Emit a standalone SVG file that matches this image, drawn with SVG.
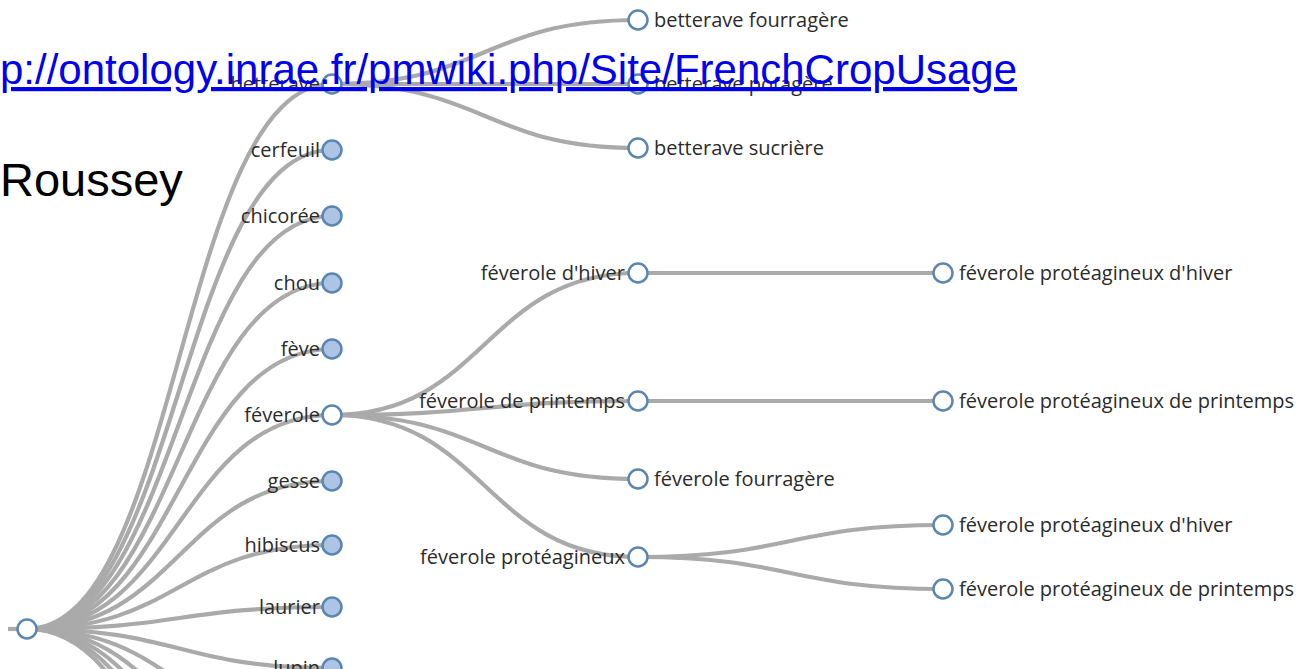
<svg xmlns="http://www.w3.org/2000/svg" width="1301" height="669" viewBox="0 0 1301 669">
<style>
.link{fill:none;stroke:#aaaaaa;stroke-width:4.2}
.node circle{stroke:#5a86b1;stroke-width:2.5}
.collapsed{fill:#aec4e5}
.open{fill:#ffffff}
.lbl{font-family:"Open Sans","DejaVu Sans",sans-serif;font-size:20px;fill:#2b2b2b}
.end{text-anchor:end}
.title{font-family:"Liberation Sans",Arial,sans-serif;fill:#000}
</style>
<rect width="1301" height="669" fill="#fff"/>
<g id="connectors">
<path class="link" d="M8,629 L18,629"/>
<path class="link" d="M27,629 C179.5,629 179.5,84 332,84"/>
<path class="link" d="M27,629 C179.5,629 179.5,150 332,150"/>
<path class="link" d="M27,629 C179.5,629 179.5,216 332,216"/>
<path class="link" d="M27,629 C179.5,629 179.5,283 332,283"/>
<path class="link" d="M27,629 C179.5,629 179.5,349 332,349"/>
<path class="link" d="M27,629 C179.5,629 179.5,415 332,415"/>
<path class="link" d="M27,629 C179.5,629 179.5,481 332,481"/>
<path class="link" d="M27,629 C179.5,629 179.5,545 332,545"/>
<path class="link" d="M27,629 C179.5,629 179.5,607 332,607"/>
<path class="link" d="M27,629 C179.5,629 179.5,668 332,668"/>
<path class="link" d="M27,629 C179.5,629 179.5,734 332,734"/>
<path class="link" d="M27,629 C179.5,629 179.5,800 332,800"/>
<path class="link" d="M27,629 C179.5,629 179.5,866 332,866"/>
<path class="link" d="M27,629 C179.5,629 179.5,932 332,932"/>
<path class="link" d="M27,629 C179.5,629 179.5,998 332,998"/>
<path class="link" d="M332,84 C485,84 485,20 638,20"/>
<path class="link" d="M332,84 C485,84 485,84 638,84"/>
<path class="link" d="M332,84 C485,84 485,148 638,148"/>
<path class="link" d="M332,415 C485,415 485,273 638,273"/>
<path class="link" d="M332,415 C485,415 485,401 638,401"/>
<path class="link" d="M332,415 C485,415 485,479 638,479"/>
<path class="link" d="M332,415 C485,415 485,557 638,557"/>
<path class="link" d="M638,273 C790.5,273 790.5,273 943,273"/>
<path class="link" d="M638,401 C790.5,401 790.5,401 943,401"/>
<path class="link" d="M638,557 C790.5,557 790.5,525 943,525"/>
<path class="link" d="M638,557 C790.5,557 790.5,589 943,589"/>
</g>
<g id="root" class="node"><circle class="open" cx="27" cy="629" r="9.5"/></g>
<g id="betterave" class="node"><circle class="open" cx="332" cy="84" r="9.5"/><text class="lbl end" x="320" y="91">betterave</text></g>
<g id="cerfeuil" class="node"><circle class="collapsed" cx="332" cy="150" r="9.5"/><text class="lbl end" x="320" y="157">cerfeuil</text></g>
<g id="chicoree" class="node"><circle class="collapsed" cx="332" cy="216" r="9.5"/><text class="lbl end" x="320" y="223">chicorée</text></g>
<g id="chou" class="node"><circle class="collapsed" cx="332" cy="283" r="9.5"/><text class="lbl end" x="320" y="290">chou</text></g>
<g id="feve" class="node"><circle class="collapsed" cx="332" cy="349" r="9.5"/><text class="lbl end" x="320" y="356">fève</text></g>
<g id="feverole" class="node"><circle class="open" cx="332" cy="415" r="9.5"/><text class="lbl end" x="320" y="422">féverole</text></g>
<g id="gesse" class="node"><circle class="collapsed" cx="332" cy="481" r="9.5"/><text class="lbl end" x="320" y="488">gesse</text></g>
<g id="hibiscus" class="node"><circle class="collapsed" cx="332" cy="545" r="9.5"/><text class="lbl end" x="320" y="552">hibiscus</text></g>
<g id="laurier" class="node"><circle class="collapsed" cx="332" cy="607" r="9.5"/><text class="lbl end" x="320" y="614">laurier</text></g>
<g id="lupin" class="node"><circle class="collapsed" cx="332" cy="668" r="9.5"/><text class="lbl end" x="320" y="675">lupin</text></g>
<g id="betterave-fourragere" class="node"><circle class="open" cx="638" cy="20" r="9.5"/><text class="lbl" x="654" y="27">betterave fourragère</text></g>
<g id="betterave-potagere" class="node"><circle class="open" cx="638" cy="84" r="9.5"/><text class="lbl" x="654" y="91">betterave potagère</text></g>
<g id="betterave-sucriere" class="node"><circle class="open" cx="638" cy="148" r="9.5"/><text class="lbl" x="654" y="155">betterave sucrière</text></g>
<g id="feverole-hiver" class="node"><circle class="open" cx="638" cy="273" r="9.5"/><text class="lbl end" x="625" y="280">féverole d'hiver</text></g>
<g id="feverole-printemps" class="node"><circle class="open" cx="638" cy="401" r="9.5"/><text class="lbl end" x="625" y="408">féverole de printemps</text></g>
<g id="feverole-fourragere" class="node"><circle class="open" cx="638" cy="479" r="9.5"/><text class="lbl" x="654" y="486">féverole fourragère</text></g>
<g id="feverole-proteagineux" class="node"><circle class="open" cx="638" cy="557" r="9.5"/><text class="lbl end" x="625" y="564">féverole protéagineux</text></g>
<g id="fph-1" class="node"><circle class="open" cx="943" cy="273" r="9.5"/><text class="lbl" x="959" y="280">féverole protéagineux d'hiver</text></g>
<g id="fpp-1" class="node"><circle class="open" cx="943" cy="401" r="9.5"/><text class="lbl" x="959" y="408">féverole protéagineux de printemps</text></g>
<g id="fph-2" class="node"><circle class="open" cx="943" cy="525" r="9.5"/><text class="lbl" x="959" y="532">féverole protéagineux d'hiver</text></g>
<g id="fpp-2" class="node"><circle class="open" cx="943" cy="589" r="9.5"/><text class="lbl" x="959" y="596">féverole protéagineux de printemps</text></g>
<g id="overlay">
<text class="title" x="0" y="84" font-size="42" style="fill:#0000ee" text-decoration="underline">p://ontology.inrae.fr/pmwiki.php/Site/FrenchCropUsage</text>
<text class="title" x="0" y="196" font-size="47">Roussey</text>
</g>
</svg>
